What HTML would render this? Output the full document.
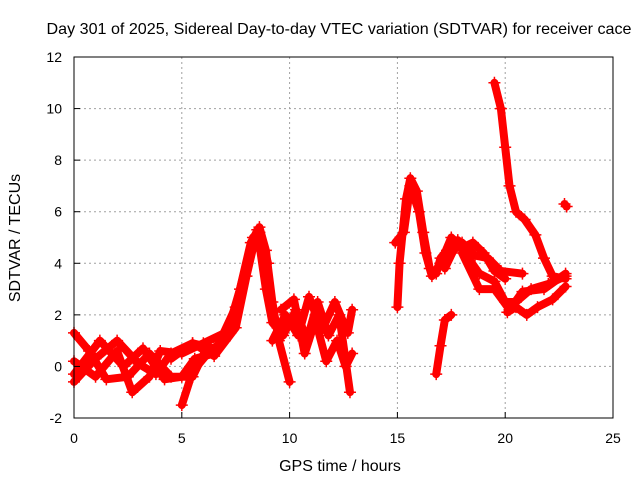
<!DOCTYPE html>
<html><head><meta charset="utf-8"><style>
body{margin:0;background:#fff;}
svg{display:block;font-family:"Liberation Sans",sans-serif;}
</style></head><body>
<svg id="chart" width="640" height="480">
<text x="339" y="34" font-size="16" text-anchor="middle" textLength="585" lengthAdjust="spacingAndGlyphs">Day 301 of 2025, Sidereal Day-to-day VTEC variation (SDTVAR) for receiver cace</text>
<text x="340" y="471" font-size="16" text-anchor="middle">GPS time / hours</text>
<text transform="translate(20,238) rotate(-90)" font-size="16" text-anchor="middle">SDTVAR / TECUs</text>
<g id="grid"></g><g id="marks"></g><g id="axes"></g>
</svg>
<script>
const xTicks=[0,5,10,15,20,25];
const yTicks=[-2,0,2,4,6,8,10,12];
const trackA=[[0,-0.6],[1,0.3],[2,1.0],[3,0.1],[3.8,-0.3],[4.5,0.5],[5.5,0.9],[6.5,0.7]];
const trackB=[[0,1.3],[0.7,0.6],[1.5,-0.5],[2.5,-0.4],[3.5,0.5],[4.5,-0.4],[5.5,-0.4],[6.2,0.8]];
const trackC=[[0,0.2],[1,-0.4],[2,0.6],[2.7,-1.0],[3.5,-0.4],[4,0.6],[5,0.5],[6,0.9],[7,1.3]];
const trackD=[[0,-0.3],[1.2,1.0],[2.3,0.0],[3.2,0.7],[4.2,-0.5],[5.0,-0.4],[5.6,0.3],[6.5,0.5],[7.5,2.3],[8.2,4.8],[8.6,5.4],[8.9,4.5],[9.2,2.5],[9.5,1.0],[10.0,-0.6]];
const trackE=[[4.5,0.3],[5.5,0.9],[6.5,0.4],[7.5,1.5],[8.0,3.5],[8.5,5.3],[8.9,3.0],[9.2,1.7],[9.7,1.2],[10.3,2.2],[10.8,1.0],[11.3,2.5],[11.8,1.2],[12.3,2.0],[12.8,-1.0]];
const trackF=[[5,-1.5],[5.5,-0.2],[6.3,0.6],[7,1.0],[7.7,3.0],[8.3,5.0],[8.6,5.2],[9.0,4.0]];
const trackG=[[9.2,1.0],[9.8,2.0],[10.4,1.2],[10.9,2.7],[11.5,1.4],[12.1,2.5],[12.7,1.3],[12.9,2.2]];
const trackH=[[9.6,2.2],[10.2,2.6],[10.7,0.5],[11.2,1.8],[11.7,0.2],[12.2,1.0],[12.6,0.0],[12.9,0.5]];
const trackI=[[15.0,2.3],[15.1,4.0],[15.4,6.5],[15.6,7.3],[15.9,6.8],[16.2,5.2],[16.5,3.8],[16.8,3.6],[17.0,4.2],[17.3,4.5],[17.8,4.9],[18.2,4.3],[18.8,3.6],[19.5,3.3],[20.0,2.5],[20.5,2.5],[21.2,3.0],[22,3.2],[22.8,3.5]];
const trackJ=[[14.9,4.8],[15.3,5.2],[15.6,7.0],[16.0,6.0],[16.3,4.4],[16.6,3.5],[17.0,4.0],[17.5,5.0],[18.0,4.6],[18.5,4.8],[19.0,4.4],[19.5,3.7],[20.0,3.4]];
const trackJ2=[[20.1,2.1],[20.5,2.3],[21,2.0],[21.5,2.3],[22.2,2.6],[22.8,3.1]];
const trackK=[[17.2,3.8],[17.6,4.5],[18.0,4.8],[18.6,4.3],[19.2,4.2],[19.8,3.7],[20.8,3.6]];
const trackL=[[18.0,4.4],[18.8,3.0],[19.5,3.0],[20.2,2.2],[20.8,2.9],[21.8,3.0],[22.8,3.6]];
const trackM=[[19.5,11.0],[19.8,10.0],[20.0,8.5],[20.2,7.0],[20.5,6.0],[20.9,5.7],[21.4,5.1],[21.8,4.2],[22.2,3.5],[22.8,3.4]];
const trackN=[[16.8,-0.3],[17.0,0.8],[17.2,1.8],[17.5,2.0]];
const trackO=[[22.75,6.3],[22.85,6.2]];
const tracks=[trackA,trackB,trackC,trackD,trackE,trackF,trackG,trackH,trackI,trackJ,trackJ2,trackK,trackL,trackM,trackN,trackO];

const L=74,R=613,T=57,B=418,xmin=0,xmax=25,ymin=-2,ymax=12;
const xs=v=>L+(v-xmin)/(xmax-xmin)*(R-L);
const ys=v=>B-(v-ymin)/(ymax-ymin)*(B-T);
const NS="http://www.w3.org/2000/svg";
function mk(tag,attrs,parent){const e=document.createElementNS(NS,tag);for(const k in attrs)e.setAttribute(k,attrs[k]);parent.appendChild(e);return e;}
const grid=document.getElementById('grid'),marks=document.getElementById('marks'),axes=document.getElementById('axes');
xTicks.forEach(t=>{
  if(t>xmin&&t<xmax){const g=mk('line',{x1:xs(t),x2:xs(t),y1:T,y2:B,stroke:'#a0a0a0','stroke-dasharray':'2,3'},grid);
  
  }
  const tk=mk('line',{x1:xs(t),x2:xs(t),y1:B,y2:B-6,stroke:'#000'},axes);
  
  
  const lb=mk('text',{x:xs(t),y:B+25,'font-size':14,'text-anchor':'middle'},axes);
  lb.textContent=t;
  
  
});
yTicks.forEach(t=>{
  if(t>ymin&&t<ymax){const g=mk('line',{x1:L,x2:R,y1:ys(t),y2:ys(t),stroke:'#a0a0a0','stroke-dasharray':'2,3'},grid);
  
  }
  const tk=mk('line',{x1:L,x2:L+6,y1:ys(t),y2:ys(t),stroke:'#000'},axes);
  
  
  const lb=mk('text',{x:L-12,y:ys(t)+5,'font-size':14,'text-anchor':'end'},axes);
  lb.textContent=t;
  
  
});
const bd=mk('rect',{x:L,y:T,width:R-L,height:B-T,fill:'none',stroke:'#000'},axes);


tracks.forEach(tr=>{
  const pts=tr.map(p=>xs(p[0])+','+ys(p[1])).join(' ');
  const pl=mk('polyline',{points:pts,fill:'none',stroke:'#ff0000','stroke-width':8,'stroke-linejoin':'round','stroke-linecap':'round'},marks);
  
  
  tr.forEach(p=>{
    const x=xs(p[0]),y=ys(p[1]);
    const m=mk('path',{d:`M${x-6},${y}H${x+6}M${x},${y-6}V${y+6}`,stroke:'#ff0000','stroke-width':1.5},marks);
    
    
  });
});
</script>
</body></html>
